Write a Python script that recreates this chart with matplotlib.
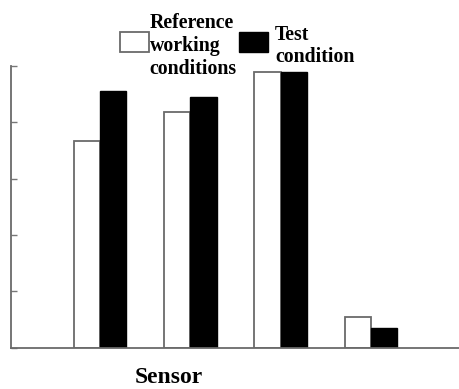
import matplotlib
matplotlib.use("Agg")
import matplotlib.pyplot as plt
from matplotlib.patches import Rectangle
import numpy as np

# Data
sensors = ["1", "2", "3", "4"]
reference_vals = [3.67, 4.18, 4.89, 0.54]
test_vals = [4.56, 4.45, 4.90, 0.35]
series_labels = ["Reference\nworking\nconditions", "Test\ncondition"]
x_label = "Sensor"

W, H = 460, 389
fig = plt.figure(figsize=(W / 100, H / 100), dpi=100)

def fx(px):
    return px / W

def fy(py):
    return 1 - py / H

ax_left, ax_right, ax_top, ax_bot = 11, 460, 66, 347.5
ax = fig.add_axes([fx(ax_left), fy(ax_bot), (ax_right - ax_left) / W, (ax_bot - ax_top) / H])

x = np.arange(len(sensors))
bw = 0.29
ax.bar(x - bw / 2, reference_vals, bw, color="white", edgecolor="#6a6a6a", linewidth=1.3)
ax.bar(x + bw / 2, test_vals, bw, color="black", edgecolor="black", linewidth=1.0)

ax.set_xlim(-0.985, 3.985)
ax.set_ylim(0, 5)
ax.set_yticks([0, 1, 2, 3, 4, 5])
ax.tick_params(axis="y", direction="in", length=4, width=1.0, color="#777777", labelleft=False)
ax.tick_params(axis="x", bottom=False, labelbottom=False)
for s in ["top", "right"]:
    ax.spines[s].set_visible(False)
for s in ["left", "bottom"]:
    ax.spines[s].set_color("#6a6a6a")
    ax.spines[s].set_linewidth(1.3)

font = dict(family="Liberation Serif", weight="bold")

# Legend (manual)
fig.patches.append(Rectangle((fx(120), fy(52)), 29 / W, 20 / H, transform=fig.transFigure,
                             facecolor="white", edgecolor="#6a6a6a", linewidth=1.3))
fig.patches.append(Rectangle((fx(239), fy(52)), 29 / W, 20 / H, transform=fig.transFigure,
                             facecolor="black", edgecolor="black", linewidth=1.0))

def put_label(label, x_px, first_baseline_px, step_px=23):
    for i, line in enumerate(label.split("\n")):
        fig.text(fx(x_px), fy(first_baseline_px + i * step_px), line, ha="left",
                 va="baseline", fontsize=14.3, **font)

put_label(series_labels[0], 149.5, 27.5)
put_label(series_labels[1], 275, 39.5)

fig.text(fx(168.5), fy(383), x_label, ha="center", va="baseline", fontsize=17, **font)

fig.savefig("out.png", dpi=100)
